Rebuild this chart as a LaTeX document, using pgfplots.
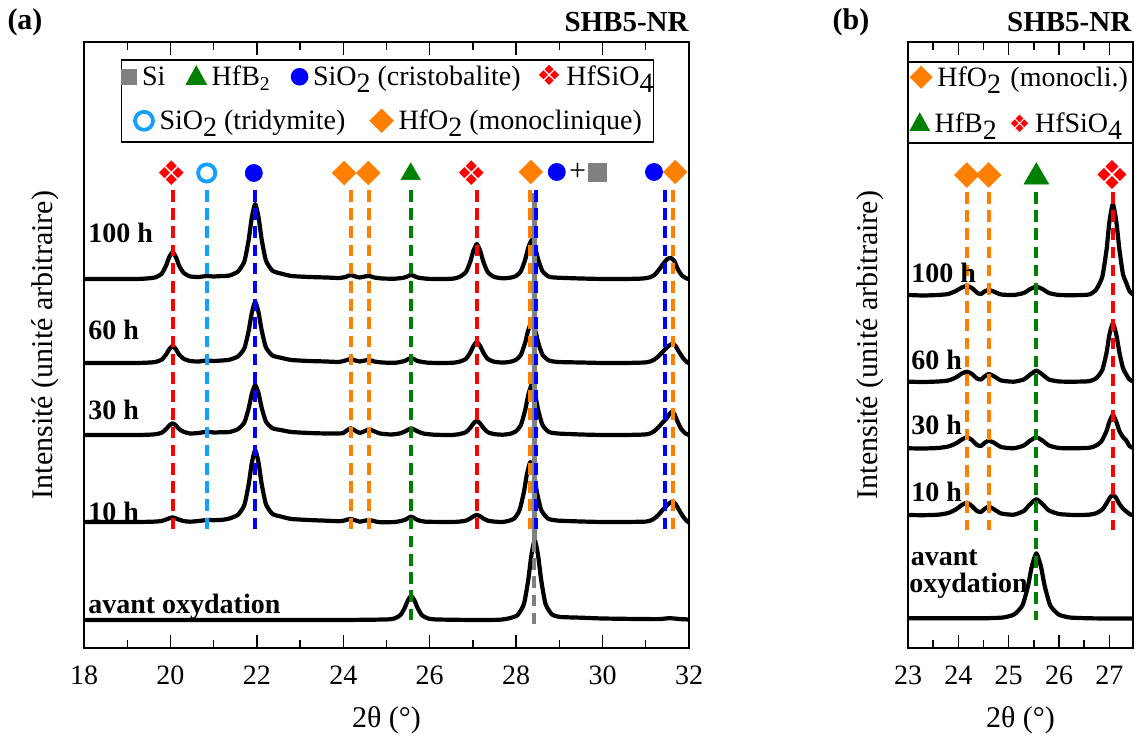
\documentclass[border=0pt]{standalone}
\usepackage{fontspec}
\setmainfont{Liberation Serif}
\newfontfamily\dejavu{DejaVu Sans}
\usepackage{pgfplots}
\pgfplotsset{compat=1.18}
\definecolor{cred}{RGB}{255,0,0}
\definecolor{corange}{RGB}{255,128,0}
\definecolor{cgreen}{RGB}{0,128,0}
\definecolor{cblue}{RGB}{0,0,255}
\definecolor{cltblue}{RGB}{20,160,255}
\definecolor{cgray}{RGB}{128,128,128}
\newcommand{\bsub}[1]{\raisebox{-0.55ex}{#1}}
\newcommand{\lab}{\fontsize{14}{14}\selectfont\bfseries}
% legend glyphs
\newcommand{\mkSq}{\tikz[baseline=-0.7ex]\fill[cgray] (-4pt,-4pt) rectangle (4pt,4pt);}
\newcommand{\mkTri}[1]{\tikz[baseline=-0.7ex,scale=#1]\fill[cgreen] (0,5.8pt) -- (-5.4pt,-4pt) -- (5.4pt,-4pt) -- cycle;}
\newcommand{\mkCirc}{\tikz[baseline=-0.7ex]\fill[cblue] (0,0) circle (4.4pt);}
\newcommand{\mkOpen}{\tikz[baseline=-0.7ex]\draw[cltblue,line width=1.9pt] (0,0) circle (4.5pt);}
\newcommand{\mkDia}[1]{\tikz[baseline=-0.7ex,scale=#1]\fill[corange] (0,6.1pt) -- (6.1pt,0) -- (0,-6.1pt) -- (-6.1pt,0) -- cycle;}
\newcommand{\mkHf}[1]{{\dejavu\fontsize{#1}{#1}\selectfont\color{cred}❖}}
\pgfplotsset{
  curve/.style={black, line width=2.1pt, smooth, tension=0.35, line join=round},
  vl/.style={line width=2pt, dash pattern=on 5.8pt off 3.3pt},
  base/.style={scale only axis, height=303pt, ymin=0, ymax=606, ytick=\empty,
    tick align=inside, major tick length=6.5pt, minor tick length=4pt,
    every tick/.style={black, line width=0.7pt},
    axis line style={line width=0.8pt},
    /pgf/number format/assume math mode=true,
    xticklabel style={font=\fontsize{14}{14}\selectfont, anchor=center, yshift=-13.5pt},
    xlabel={2θ (°)},
    ylabel={Intensité (unité arbitraire)},
    label style={font=\fontsize{15}{15}\selectfont},
    xlabel style={at={(axis description cs:0.5,-0.1188)}, anchor=center},
    clip=false}
}
\begin{document}
\begin{tikzpicture}
\useasboundingbox (0,0) rectangle (568.5pt,371.5pt);
% ================= panel (a)
\begin{axis}[base, at={(42pt,47.5pt)}, anchor=south west, width=302.5pt,
  xmin=18, xmax=32, xtick={18,20,...,32}, minor xtick={19,21,...,31},
  ylabel style={at={(axis description cs:-0.0645,0.5)}, anchor=center}]
% curves
\addplot[curve] coordinates {(18.0,369) (18.6,369) (19.2,369) (19.45,369.5) (19.65,370.6) (19.8,374.4) (19.9,382.5) (19.97,390.6) (20.05,396) (20.13,390.6) (20.2,382.5) (20.3,375.4) (20.45,371.6) (20.65,371) (20.84,372) (21.0,371.5) (21.2,372) (21.36,372.4) (21.56,376.3) (21.71,386.4) (21.81,408) (21.88,429.6) (21.96,444) (22.04,430.6) (22.11,409) (22.21,387.4) (22.36,377.3) (22.56,374.4) (22.8,372) (23.2,371) (23.6,370.5) (23.9,370) (24.05,371) (24.17,373) (24.28,371.5) (24.38,370.5) (24.5,371.5) (24.6,372) (24.72,370.5) (24.9,369.5) (25.2,369.3) (25.42,370.5) (25.57,373) (25.72,370.5) (25.95,369.2) (26.3,369) (26.55,369.4) (26.69,371.1) (26.84,376) (26.94,386.5) (27.01,397) (27.09,404) (27.17,397) (27.24,386.5) (27.34,376) (27.49,371.1) (27.69,369.7) (27.86,370.3) (27.99,371.8) (28.11,376.8) (28.21,388.5) (28.28,400.2) (28.36,408) (28.44,400.2) (28.51,388.5) (28.61,376.8) (28.76,371.3) (28.96,370.3) (29.5,369.5) (30.0,369) (30.5,369) (30.85,369.3) (31.0,369.8) (31.1,370.8) (31.2,373) (31.3,378) (31.4,384) (31.5,389) (31.58,390) (31.66,387) (31.75,378) (31.85,372) (31.95,369.5) (32.0,369)};
\addplot[curve] coordinates {(18.0,285) (18.6,285) (19.2,285) (19.45,285.3) (19.65,286) (19.8,288.4) (19.9,293.5) (19.97,298.6) (20.05,302) (20.13,298.6) (20.2,293.5) (20.3,289.4) (20.45,287) (20.65,286.5) (20.84,287.5) (21.0,287) (21.2,287.5) (21.36,288.2) (21.56,291.5) (21.71,299.6) (21.81,317) (21.88,334.4) (21.96,346) (22.04,335.4) (22.11,318) (22.21,300.6) (22.36,292.5) (22.56,290.2) (22.8,288) (23.2,287) (23.6,286.5) (23.9,286) (24.05,287.5) (24.17,289) (24.28,287.5) (24.38,286.5) (24.5,287.5) (24.6,288) (24.72,286.5) (24.9,285.5) (25.2,285.2) (25.42,287) (25.57,290) (25.72,287) (25.95,285.3) (26.3,285) (26.55,285.3) (26.69,286.3) (26.84,289.2) (26.94,295.5) (27.01,301.8) (27.09,306) (27.17,301.8) (27.24,295.5) (27.34,289.2) (27.49,286.3) (27.69,285.4) (27.86,286.2) (27.99,288) (28.11,293.2) (28.21,305.5) (28.28,317.8) (28.36,326) (28.44,317.8) (28.51,305.5) (28.61,293.2) (28.76,287.5) (28.96,286) (29.5,285.5) (30.0,285) (30.5,285) (30.85,285.3) (31.0,285.6) (31.1,286.5) (31.2,288.5) (31.3,292) (31.4,296.5) (31.5,301) (31.6,304) (31.68,302.5) (31.77,296) (31.87,289.5) (31.95,286) (32.0,285)};
\addplot[curve] coordinates {(18.0,213) (18.6,213) (19.2,213) (19.45,213.2) (19.65,213.7) (19.8,215.3) (19.9,218.9) (19.97,222.4) (20.05,224.7) (20.13,222.4) (20.2,219) (20.3,216.3) (20.45,214.5) (20.65,215) (20.84,216.3) (21.0,215.5) (21.2,215.8) (21.36,215.9) (21.56,218.8) (21.71,225.4) (21.81,239.5) (21.88,253.6) (21.96,263) (22.04,254.6) (22.11,240.5) (22.21,226.4) (22.36,219.8) (22.56,217.9) (22.8,216) (23.2,215) (23.6,214.5) (23.9,214.5) (24.0,215) (24.08,217.5) (24.17,219.7) (24.27,217.5) (24.38,215) (24.5,217) (24.6,218.7) (24.7,217) (24.85,214.5) (25.1,213.5) (25.3,214.5) (25.45,217) (25.57,219.7) (25.7,217) (25.85,214.5) (26.1,213.3) (26.5,213) (26.69,213.9) (26.84,215.9) (26.94,220.2) (27.01,224.4) (27.09,227.3) (27.17,224.4) (27.24,220.2) (27.34,215.9) (27.49,213.9) (27.69,213.3) (27.86,214.2) (27.99,216.5) (28.11,223) (28.21,238) (28.28,253) (28.36,263) (28.44,253) (28.51,238) (28.61,223) (28.76,216) (28.96,214.5) (29.5,213.5) (30.0,213) (30.5,213) (30.85,213.3) (31.0,213.6) (31.1,214.5) (31.2,217) (31.3,221) (31.4,226) (31.48,229.5) (31.54,233.5) (31.6,236.3) (31.66,234) (31.73,227) (31.82,219) (31.92,214.5) (32.0,213)};
\addplot[curve] coordinates {(18.0,126) (18.6,126) (19.2,126) (19.6,126.3) (19.8,127) (19.92,128.8) (20.05,130.7) (20.17,128.8) (20.3,127) (20.45,126.3) (20.65,127) (20.84,128) (21.0,127.8) (21.2,128.2) (21.36,129.4) (21.56,133.1) (21.71,142.8) (21.81,163.5) (21.88,184.2) (21.96,198) (22.04,185.2) (22.11,164.5) (22.21,143.8) (22.36,134.1) (22.56,131.4) (22.8,129) (23.2,128) (23.6,127.3) (23.9,126.8) (24.03,127.5) (24.1,128.5) (24.17,129) (24.26,128) (24.38,126.3) (24.5,127.3) (24.6,128) (24.7,127) (24.85,125.8) (25.2,126) (25.42,128) (25.57,131.3) (25.72,128) (25.9,126.3) (26.5,126) (26.69,126.4) (26.84,127.4) (26.94,129.5) (27.01,131.6) (27.09,133) (27.17,131.6) (27.24,129.5) (27.34,127.4) (27.49,126.4) (27.69,126) (27.83,127.2) (27.96,129.6) (28.08,138) (28.18,156) (28.25,174) (28.33,186) (28.41,174) (28.48,156) (28.58,138) (28.73,129.6) (28.93,127.5) (29.5,126.5) (30.0,126) (30.5,126) (30.85,126.2) (31.0,126.4) (31.1,127.3) (31.2,129.5) (31.3,133.5) (31.4,138.5) (31.5,143) (31.6,146.3) (31.68,144.5) (31.77,138) (31.87,131) (31.95,127) (32.0,125.5)};
\addplot[curve] coordinates {(18.0,28) (19.5,28) (21.0,28) (22.5,28) (24.0,28) (24.97,28.5) (25.17,29.4) (25.32,32.8) (25.42,40) (25.49,47.2) (25.57,52) (25.65,47.2) (25.72,40) (25.82,32.8) (25.97,29.4) (26.17,28.5) (27.0,28) (27.6,28.2) (27.83,29.6) (28.03,32.8) (28.18,44) (28.28,68) (28.35,92) (28.43,108) (28.51,92) (28.58,68) (28.68,44) (28.83,33.5) (29.03,31) (29.5,30.3) (30.0,29.5) (30.8,29) (31.3,28.9) (31.55,29.8) (31.8,28.9) (32.0,28.5)};
% reference lines
\addplot[cgray, line width=2.3pt] coordinates {(28.42,455) (28.42,108)};
\addplot[cgray, vl] coordinates {(28.42,108) (28.42,20)};
\addplot[cred, vl] coordinates {(20.05,458) (20.05,113)};
\addplot[cltblue, vl] coordinates {(20.84,458) (20.84,113)};
\addplot[cblue, vl] coordinates {(21.96,458) (21.96,113)};
\addplot[corange, vl] coordinates {(24.17,458) (24.17,113)};
\addplot[corange, vl] coordinates {(24.60,458) (24.60,113)};
\addplot[cgreen, vl] coordinates {(25.57,458) (25.57,28)};
\addplot[cred, vl] coordinates {(27.09,458) (27.09,113)};
\addplot[corange, vl] coordinates {(28.32,458) (28.32,113)};
\addplot[cblue, vl] coordinates {(28.45,458) (28.45,113)};
\addplot[cblue, vl] coordinates {(31.44,458) (31.44,113)};
\addplot[corange, vl] coordinates {(31.62,458) (31.62,113)};
% phase markers
\addplot[only marks, mark=*, mark size=4.3pt, mark options={fill=cblue, draw=cblue, line width=0.3pt}] coordinates {(21.93,475) (28.94,476) (31.19,476)};
\addplot[only marks, mark=o, mark size=4.3pt, mark options={draw=cltblue, line width=1.9pt}] coordinates {(20.84,475)};
\addplot[only marks, mark=square*, mark size=4.2pt, mark options={rotate=45, fill=corange, draw=corange, line width=0.2pt}] coordinates {(24.02,475) (24.58,475) (28.34,476) (31.68,476)};
\addplot[only marks, mark=triangle*, mark size=5.6pt, mark options={fill=cgreen, draw=cgreen, line width=0.2pt}] coordinates {(25.56,474)};
\addplot[only marks, mark=square*, mark size=4.4pt, mark options={fill=cgray, draw=cgray, line width=0.2pt}] coordinates {(29.88,476)};
\addplot[only marks, mark=none, nodes near coords={❖}, every node near coord/.append style={anchor=center, text=cred, inner sep=0pt, font=\dejavu\fontsize{17}{17}\selectfont}] coordinates {(20.02,475) (26.97,475)};
\node[font=\fontsize{15}{15}\selectfont] at (axis cs:29.42,476) {+};
% curve labels
\node[anchor=west, inner sep=0pt, font=\lab] at (axis cs:18.09,415) {100 h};
\node[anchor=west, inner sep=0pt, font=\lab] at (axis cs:18.09,318) {60 h};
\node[anchor=west, inner sep=0pt, font=\lab] at (axis cs:18.09,238) {30 h};
\node[anchor=west, inner sep=0pt, font=\lab] at (axis cs:18.09,136) {10 h};
\node[anchor=west, inner sep=0pt, font=\lab] at (axis cs:18.09,41) {avant oxydation};
\end{axis}
% ================= panel (b)
\begin{axis}[base, at={(454pt,47.5pt)}, anchor=south west, width=112.5pt,
  xmin=23, xmax=27.47, xtick={23,...,27}, minor xtick={23.5,24.5,...,27.5},
  ylabel style={at={(axis description cs:-0.169,0.5)}, anchor=center}]
\addplot[curve] coordinates {(23.0,353) (23.3,352.5) (23.6,353) (23.8,354) (23.95,357) (24.07,360.5) (24.17,362) (24.27,360) (24.38,355) (24.45,354) (24.52,356.5) (24.6,358) (24.7,356.5) (24.85,353.5) (25.1,353) (25.3,355) (25.43,359) (25.55,361.3) (25.67,359) (25.8,355) (26.0,353) (26.3,352.8) (26.6,353.5) (26.74,358.5) (26.86,371.2) (26.945,398.5) (27.0,425.8) (27.07,444) (27.14,425.8) (27.2,398.5) (27.27,374) (27.33,366) (27.4,357) (27.47,353.5)};
\addplot[curve] coordinates {(23.0,266.3) (23.3,266) (23.6,266.5) (23.8,267.5) (23.95,270.5) (24.07,274.5) (24.17,276.3) (24.27,274) (24.37,269.5) (24.45,268.5) (24.52,271.5) (24.6,274) (24.7,272) (24.85,267.5) (25.1,266.3) (25.3,268.5) (25.43,273.5) (25.55,277.3) (25.67,273.5) (25.8,268.5) (26.0,266.5) (26.3,266.3) (26.6,266.8) (26.74,269.8) (26.86,278) (26.945,295.5) (27.0,313) (27.07,324.7) (27.14,313) (27.2,295.5) (27.27,280) (27.33,274) (27.4,268.5) (27.47,266.5)};
\addplot[curve] coordinates {(23.0,199.7) (23.3,199.5) (23.6,200) (23.8,201.5) (23.95,204.5) (24.07,208.5) (24.17,210.7) (24.27,208) (24.37,203) (24.45,202) (24.52,205) (24.6,207.3) (24.7,205.5) (24.85,201) (25.1,199.7) (25.3,202.5) (25.43,207.5) (25.55,210.7) (25.67,207.5) (25.8,202.5) (26.0,200) (26.3,199.7) (26.6,200.2) (26.72,202) (26.84,206.5) (26.94,216.5) (27.0,226) (27.07,233) (27.14,226) (27.2,217) (27.27,211) (27.33,208) (27.4,202) (27.47,200)};
\addplot[curve] coordinates {(23.0,133) (23.3,132.8) (23.6,133.3) (23.8,135) (23.95,138.5) (24.07,143) (24.17,145.3) (24.27,142) (24.37,137) (24.45,136) (24.52,139) (24.6,141.3) (24.7,139) (24.85,134.5) (25.1,133.3) (25.3,137) (25.43,144) (25.55,148.7) (25.67,144) (25.8,137.5) (26.0,134) (26.3,133) (26.6,133.3) (26.75,135) (26.87,139) (26.96,146) (27.02,151) (27.07,153) (27.13,150.5) (27.2,144) (27.28,139) (27.35,136) (27.42,133.5) (27.47,133)};
\addplot[curve] coordinates {(23.0,29.7) (24.0,29.7) (24.5,29.7) (24.89,30.5) (25.11,33.6) (25.275,42.7) (25.385,62.2) (25.46,81.7) (25.55,94.7) (25.64,81.7) (25.715,62.2) (25.825,42.7) (25.99,33.6) (26.21,30.5) (26.6,29.7) (27.0,29.5) (27.47,29.5)};
\addplot[corange, vl] coordinates {(24.17,456) (24.17,118)};
\addplot[corange, vl] coordinates {(24.60,456) (24.60,118)};
\addplot[cgreen, vl] coordinates {(25.55,456) (25.55,28)};
\addplot[cred, vl] coordinates {(27.07,456) (27.07,118)};
\addplot[only marks, mark=square*, mark size=4.4pt, mark options={rotate=45, fill=corange, draw=corange, line width=0.2pt}] coordinates {(24.17,473) (24.6,473)};
\addplot[only marks, mark=triangle*, mark size=7.2pt, mark options={fill=cgreen, draw=cgreen, line width=0.2pt}] coordinates {(25.55,471)};
\addplot[only marks, mark=none, nodes near coords={❖}, every node near coord/.append style={anchor=center, text=cred, inner sep=0pt, font=\dejavu\fontsize{20}{20}\selectfont}] coordinates {(27.07,473)};
\node[anchor=west, inner sep=0pt, font=\lab] at (axis cs:23.06,375) {100 h};
\node[anchor=west, inner sep=0pt, font=\lab] at (axis cs:23.06,288) {60 h};
\node[anchor=west, inner sep=0pt, font=\lab] at (axis cs:23.06,223) {30 h};
\node[anchor=west, inner sep=0pt, font=\lab] at (axis cs:23.06,156) {10 h};
\node[anchor=west, inner sep=0pt, font=\lab] at (axis cs:23.05,90) {avant};
\node[anchor=west, inner sep=0pt, font=\lab] at (axis cs:23.02,62) {oxydation};
\end{axis}
% ================= legends and titles
\node[draw, line width=0.7pt, fill=white, inner sep=0pt, minimum width=264.5pt, minimum height=41pt,
  align=center, font=\fontsize{14}{22}\selectfont] at (193.75pt,321pt)
  {\mkSq\,Si\hspace{10pt}\mkTri{1}\,HfB\textsubscript{2}\hspace{10pt}\mkCirc\,SiO\bsub{2} (cristobalite)\hspace{8pt}\mkHf{14}\,HfSiO\bsub{4}\\
   \mkOpen\,SiO\bsub{2} (tridymite)\hspace{12pt}\mkDia{1}\,HfO\bsub{2} (monoclinique)};
\node[draw, line width=0.7pt, fill=white, inner sep=0pt, minimum width=112.5pt, minimum height=40.5pt,
  text width=111pt, align=left, font=\fontsize{14}{23}\selectfont] at (510.25pt,320.25pt)
  {\mbox{\mkDia{0.95}\,HfO\bsub{2} (monocli.)}\\
   \mbox{\mkTri{0.95}\,HfB\bsub{2}\hspace{6pt}\mkHf{12}\,HfSiO\bsub{4}}};
\node[font=\fontsize{15}{15}\selectfont\bfseries, inner sep=0pt] at (12.5pt,360.5pt) {(a)};
\node[font=\fontsize{14.5}{14.5}\selectfont\bfseries, inner sep=0pt, anchor=east] at (344.5pt,360.3pt) {SHB5-NR};
\node[font=\fontsize{15}{15}\selectfont\bfseries, inner sep=0pt] at (425.5pt,360.5pt) {(b)};
\node[font=\fontsize{14.5}{14.5}\selectfont\bfseries, inner sep=0pt, anchor=east] at (565.8pt,360.3pt) {SHB5-NR};
\end{tikzpicture}
\end{document}
